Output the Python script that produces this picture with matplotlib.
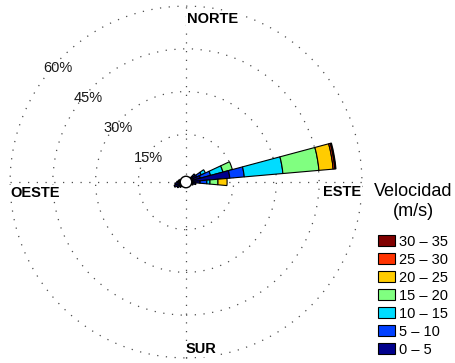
import numpy as np
import matplotlib
matplotlib.use("Agg")
import matplotlib.pyplot as plt
from matplotlib.patches import Wedge, Circle, Patch

plt.rcParams['font.family'] = ['Liberation Sans', 'DejaVu Sans']

# Wind directions (azimuth, degrees clockwise from north), 10-degree sectors
directions = [50, 60, 70, 80, 90, 100, 110, 230, 240, 250, 260, 270, 280, 290]

# Frequency (%) of each speed class per direction
freq_0_5   = [1.5, 2.4, 3.5, 13.7, 3.2, 1.8, 0.9, 1.0, 1.8, 2.6, 2.2, 1.5, 1.0, 0.6]
freq_5_10  = [0.8, 1.8, 3.7, 5.1, 2.4, 0.0, 0.0, 0.0, 0.0, 0.0, 0.0, 0.0, 0.0, 0.0]
freq_10_15 = [0.0, 1.6, 4.5, 13.6, 1.1, 0.0, 0.0, 0.0, 0.0, 0.0, 0.0, 0.0, 0.0, 0.0]
freq_15_20 = [0.0, 0.0, 3.4, 12.7, 2.8, 0.0, 0.0, 0.0, 0.0, 0.0, 0.0, 0.0, 0.0, 0.0]
freq_20_25 = [0.0, 0.0, 0.0, 5.0, 3.2, 0.0, 0.0, 0.0, 0.0, 0.0, 0.0, 0.0, 0.0, 0.0]
freq_25_30 = [0.0, 0.0, 0.0, 0.6, 0.0, 0.0, 0.0, 0.0, 0.0, 0.0, 0.0, 0.0, 0.0, 0.0]
freq_30_35 = [0.0, 0.0, 0.0, 0.4, 0.0, 0.0, 0.0, 0.0, 0.0, 0.0, 0.0, 0.0, 0.0, 0.0]

speed_labels = ["0 – 5", "5 – 10", "10 – 15", "15 – 20", "20 – 25", "25 – 30", "30 – 35"]
speed_colors = ["#00008c", "#0040ff", "#00dcff", "#80ff80", "#ffcc00", "#ff3300", "#800000"]

ring_levels = [15, 30, 45, 60]
ring_labels = ["15%", "30%", "45%", "60%"]
compass_labels = ["NORTE", "ESTE", "SUR", "OESTE"]

sector_width = 10.0
hole = 1.72          # radius of the calm circle, in % units
px_per_unit = 2.85   # pixel size of 1 %
cx_px, cy_px = 186, 182
W, H = 455, 363

fig = plt.figure(figsize=(W / 100, H / 100), dpi=100)
ax = fig.add_axes([0, 0, 1, 1])
ax.set_xlim(-cx_px / px_per_unit, (W - cx_px) / px_per_unit)
ax.set_ylim(-(H - cy_px) / px_per_unit, cy_px / px_per_unit)
ax.set_aspect('equal')
ax.axis('off')

R = hole + ring_levels[-1]

# dotted grid: rings and N-S / E-W axes
dot = (0, (1, 6))
for lvl in ring_levels:
    ax.add_patch(Circle((0, 0), hole + lvl, fill=False, ec='0.3', lw=0.9,
                        ls=dot, zorder=1))
ax.plot([-R, R], [0, 0], color='0.3', lw=0.9, ls=dot, zorder=1)
ax.plot([0, 0], [-R, R], color='0.3', lw=0.9, ls=dot, zorder=1)

# ring labels along the north-west diagonal
for lvl, lab in zip(ring_levels, ring_labels):
    rr = hole + lvl
    p = (rr * np.cos(np.radians(135)), rr * np.sin(np.radians(135)))
    ax.annotate(lab, p, xytext=(-4, -10), textcoords='offset pixels',
                ha='center', va='center', fontsize=10.5, color='0.1', zorder=2)

# compass labels
lab_kw = dict(textcoords='offset pixels', fontsize=10.5, fontweight='bold',
              zorder=3, bbox=dict(fc='white', ec='none', pad=0.5))
ax.annotate(compass_labels[0], (0, R), xytext=(1, -6), ha='left', va='top', **lab_kw)
ax.annotate(compass_labels[1], (R, 0), xytext=(-1, -3), ha='right', va='top', **lab_kw)
ax.annotate(compass_labels[2], (0, -R), xytext=(0, 2), ha='left', va='bottom', **lab_kw)
ax.annotate(compass_labels[3], (-R, 0), xytext=(0, -4), ha='left', va='top', **lab_kw)

# stacked petals
series = [freq_0_5, freq_5_10, freq_10_15, freq_15_20, freq_20_25, freq_25_30, freq_30_35]
for i, az in enumerate(directions):
    ang = 90 - az
    inner = hole
    for freqs, col in zip(series, speed_colors):
        v = freqs[i]
        if v <= 0:
            continue
        outer = inner + v
        ax.add_patch(Wedge((0, 0), outer, ang - sector_width / 2, ang + sector_width / 2,
                           width=v, fc=col, ec='black', lw=0.8, zorder=4))
        inner = outer

ax.add_patch(Circle((0, 0), hole + 0.3, fc='white', ec='black', lw=1.0, zorder=5))

# legend
handles = [Patch(fc=c, ec='black', lw=0.8) for c in speed_colors][::-1]
leg = ax.legend(handles, speed_labels[::-1], title="Velocidad\n(m/s)",
                loc='upper left', bbox_to_anchor=(374 / W, 1 - 183 / H),
                frameon=False, fontsize=10.5, title_fontsize=13,
                handlelength=1.15, handleheight=0.75, handletextpad=0.3,
                labelspacing=0.27, borderaxespad=0, borderpad=0)
leg.get_title().set_multialignment('center')
leg._legend_box.sep = 11

fig.savefig("out.png", dpi=100)
